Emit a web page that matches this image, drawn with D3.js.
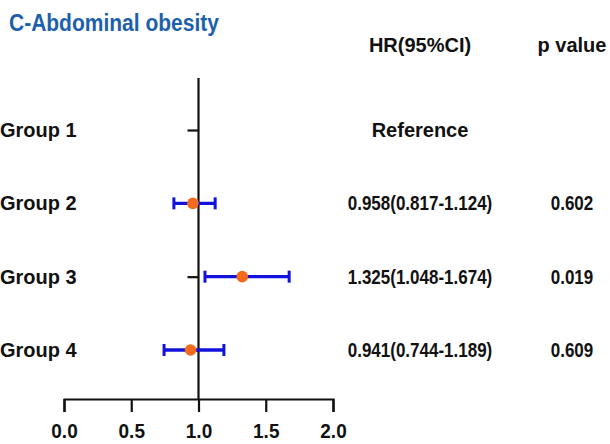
<!DOCTYPE html>
<html>
<head>
<meta charset="utf-8">
<script src="https://cdn.jsdelivr.net/npm/d3@7"></script>
<style>
  body { margin: 0; background: #fff; }
  text { font-family: "Liberation Sans", Arial, sans-serif; font-weight: bold; }
</style>
</head>
<body>
<svg id="chart" width="610" height="444"></svg>
<script>
// data
var groups = ['Group 1', 'Group 2', 'Group 3', 'Group 4'];
var hr = [null, 0.958, 1.325, 0.941];
var lower = [null, 0.817, 1.048, 0.744];
var upper = [null, 1.124, 1.674, 1.189];
var hrText = ['Reference', '0.958(0.817-1.124)', '1.325(1.048-1.674)', '0.941(0.744-1.189)'];
var pText = ['', '0.602', '0.019', '0.609'];
var xTicks = [0, 0.5, 1, 1.5, 2];

var svg = d3.select('#chart');

var x = d3.scaleLinear().domain([0, 2]).range([64, 333]);
var y = d3.scalePoint().domain(groups).range([130, 350]);

// the source figure's text is a little taller than it is wide
function stretch(px, py, s) {
  return 'translate(' + px + ',' + py + ') scale(1,' + s + ')';
}

// title
svg.append('text').attr('transform', stretch(9, 31, 1.1))
  .style('font-size', '21px').attr('fill', '#1c60ac').text('C-Abdominal obesity');

// x axis
var xAxis = svg.append('g').attr('transform', 'translate(0,399)')
  .call(d3.axisBottom(x).tickValues(xTicks).tickFormat(d3.format('.1f')).tickSize(13).tickSizeOuter(13));
xAxis.select('.domain').attr('stroke-width', 2.2).attr('stroke', '#111');
xAxis.selectAll('.tick line').attr('stroke-width', 2.2).attr('stroke', '#111');
xAxis.selectAll('.tick text').attr('y', null).attr('dy', null)
  .attr('transform', 'translate(0,39) scale(1,1.1)').attr('fill', '#111')
  .style('font-size', '19px').style('font-family', '"Liberation Sans", Arial, sans-serif').style('font-weight', 'bold');

// y axis crossing at 1.0
var yAxis = svg.append('g').attr('transform', 'translate(' + x(1) + ',0)')
  .call(d3.axisLeft(y).tickSize(11).tickFormat(''));
yAxis.select('.domain').attr('d', 'M0,78V399').attr('stroke-width', 2.2).attr('stroke', '#111');
yAxis.selectAll('.tick line').attr('stroke-width', 2.2).attr('stroke', '#111');

// group labels
svg.selectAll('.glabel').data(groups).enter().append('text')
  .attr('transform', function(d) { return stretch(0, y(d) + 7, 1.05); })
  .style('font-size', '20px').attr('fill', '#111').text(function(d) { return d; });

// error bars
var rows = groups.map(function(g, i) { return {g: g, hr: hr[i], lo: lower[i], hi: upper[i]}; })
  .filter(function(d) { return d.hr !== null; });

var bars = svg.selectAll('.ci').data(rows).enter().append('g');
bars.append('line')
  .attr('x1', function(d) { return x(d.lo); }).attr('x2', function(d) { return x(d.hi); })
  .attr('y1', function(d) { return y(d.g); }).attr('y2', function(d) { return y(d.g); })
  .attr('stroke', '#1212dc').attr('stroke-width', 3.4);
['lo', 'hi'].forEach(function(k) {
  bars.append('line')
    .attr('x1', function(d) { return x(d[k]); }).attr('x2', function(d) { return x(d[k]); })
    .attr('y1', function(d) { return y(d.g) - 6; }).attr('y2', function(d) { return y(d.g) + 6; })
    .attr('stroke', '#1212dc').attr('stroke-width', 3);
});
bars.append('circle')
  .attr('cx', function(d) { return x(d.hr); }).attr('cy', function(d) { return y(d.g); })
  .attr('r', 5.8).attr('fill', '#f26a1b');

// table headers
svg.append('text').attr('transform', stretch(420, 52, 1.05)).attr('text-anchor', 'middle')
  .style('font-size', '20px').attr('fill', '#111').text('HR(95%CI)');
svg.append('text').attr('transform', stretch(572, 52, 1.05)).attr('text-anchor', 'middle')
  .style('font-size', '20px').attr('fill', '#111').text('p value');

// table cells
svg.selectAll('.hrt').data(groups).enter().append('text')
  .attr('transform', function(d, i) { return stretch(420, y(d) + 7, i === 0 ? 1.05 : 1.18); })
  .attr('text-anchor', 'middle')
  .style('font-size', function(d, i) { return i === 0 ? '20px' : '17px'; }).attr('fill', '#111')
  .text(function(d, i) { return hrText[i]; });
svg.selectAll('.pt').data(groups).enter().append('text')
  .attr('transform', function(d) { return stretch(572, y(d) + 7, 1.18); })
  .attr('text-anchor', 'middle')
  .style('font-size', '17px').attr('fill', '#111')
  .text(function(d, i) { return pText[i]; });
</script>
</body>
</html>
